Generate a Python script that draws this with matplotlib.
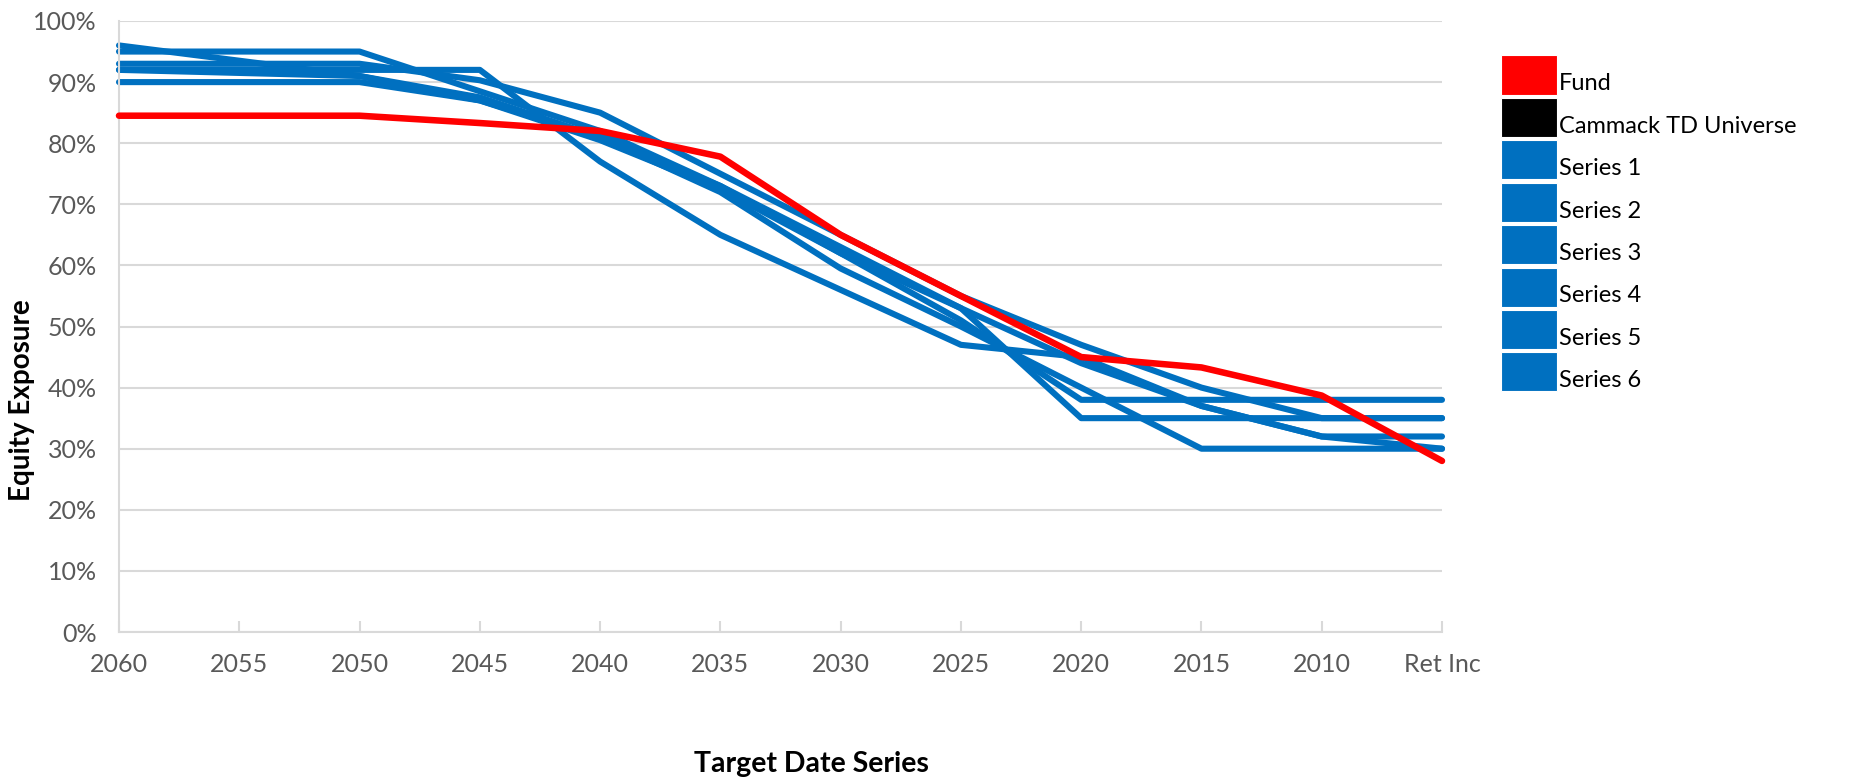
import matplotlib.pyplot as plt
from matplotlib.patches import Rectangle
from matplotlib.ticker import PercentFormatter

plt.rcParams['font.family'] = ['Lato', 'DejaVu Sans']

categories = ['2060', '2055', '2050', '2045', '2040', '2035', '2030',
              '2025', '2020', '2015', '2010', 'Ret Inc']

# equity exposure in %
fund = [84.5, 84.5, 84.5, 83.3, 82.0, 77.8, 65.0, 55.0, 45.0, 43.3, 38.7, 28.0]

series_1 = [96, 93.5, 91, 87, 81, 72, 59.5, 50, 40, 30, 30, 30]
series_2 = [95, 95, 95, 88.5, 82, 73, 63, 53, 44, 37, 32, 30]
series_3 = [93, 93, 93, 90.3, 85, 75, 65, 55, 47, 40, 35, 35]
series_4 = [92, 92, 92, 92, 77, 65, 56, 47, 45, 37, 32, 32]
series_5 = [92, 91.5, 91, 87.5, 81, 73, 62, 53, 35, 35, 35, 35]
series_6 = [90, 90, 90, 87, 80.5, 72.5, 62, 51, 38, 38, 38, 38]

series = [series_1, series_2, series_3, series_4, series_5, series_6]
legend_labels = ['Fund', 'Cammack TD Universe', 'Series 1', 'Series 2',
                 'Series 3', 'Series 4', 'Series 5', 'Series 6']

RED = '#FF0000'
BLUE = '#0070C0'
GRID = '#d9d9d9'
TICK_TXT = '#595959'
legend_colors = [RED, '#000000'] + [BLUE] * len(series)

W, H = 1852, 782
fig = plt.figure(figsize=(W / 100, H / 100), dpi=100)
ax = fig.add_axes([119 / W, 150 / H, 1323 / W, 611 / H])

x = list(range(len(categories)))
for s in series:
    ax.plot(x, s, color=BLUE, lw=4.4, solid_capstyle='round',
            solid_joinstyle='round', clip_on=False, zorder=2)
ax.plot(x, fund, color=RED, lw=4.7, solid_capstyle='round',
        solid_joinstyle='round', clip_on=False, zorder=3)

ax.set_xlim(0, len(categories) - 1)
ax.set_ylim(0, 100)
ax.set_xticks(x)
ax.set_xticklabels(categories)
ax.set_yticks(range(0, 101, 10))
ax.yaxis.set_major_formatter(PercentFormatter(xmax=100, decimals=0))

ax.yaxis.grid(True, color=GRID, lw=1.5)
ax.set_axisbelow(True)
for side in ['top', 'right']:
    ax.spines[side].set_visible(False)
for side in ['left', 'bottom']:
    ax.spines[side].set_color(GRID)
    ax.spines[side].set_linewidth(1.5)

ax.tick_params(axis='y', length=0, pad=16, labelsize=18, labelcolor=TICK_TXT)
ax.tick_params(axis='x', direction='in', length=8, width=1.5, color=GRID,
               pad=15, labelsize=18, labelcolor=TICK_TXT)

fig.text(811 / W, 1 - 764 / H, 'Target Date Series', ha='center', va='center',
         fontsize=20.5, fontweight='bold')
fig.text(22 / W, 1 - 400 / H, 'Equity Exposure', ha='center', va='center',
         rotation=90, fontsize=20, fontweight='bold')

# legend: colour boxes with the label just right of each box
box_x, box_w, box_h = 1501, 56, 39
top0, step = 55.5, 42.4
for i, (lab, col) in enumerate(zip(legend_labels, legend_colors)):
    top = top0 + i * step
    fig.add_artist(Rectangle((box_x / W, 1 - (top + box_h) / H), box_w / W,
                             box_h / H, transform=fig.transFigure,
                             facecolor=col, edgecolor='white', lw=0.8))
    fig.text((box_x + box_w + 2) / W, 1 - (top + box_h - 4) / H, lab,
             ha='left', va='baseline', fontsize=17)

fig.savefig('out.png', dpi=100)
